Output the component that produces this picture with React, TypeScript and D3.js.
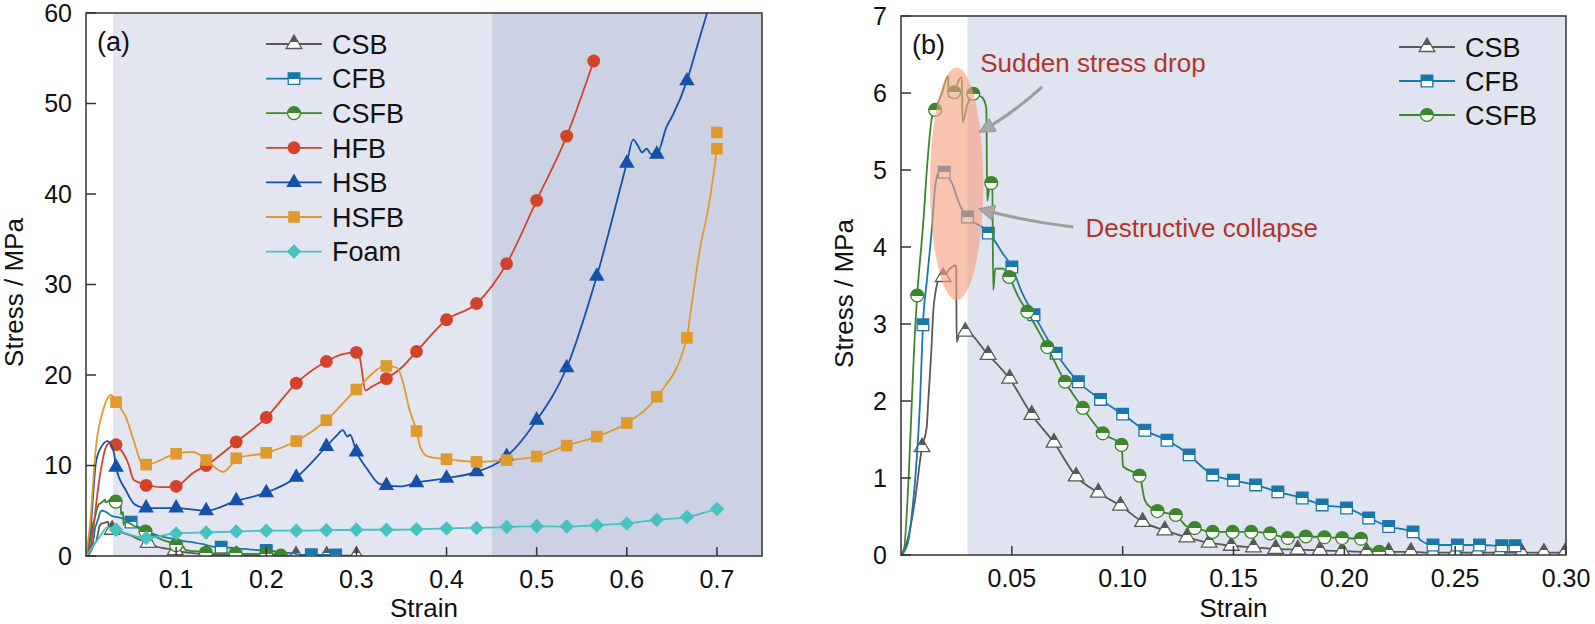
import React from 'react';
import * as d3 from 'd3';

type Pt = [number, number];
type Shape = 'triangle' | 'square' | 'circle' | 'diamond';

// ---- data: [strain, stress MPa] ----

const csbLine: Pt[] = [
  [0, 0], [0.003, 0.2], [0.0063, 0.71], [0.0095, 1.4], [0.0116, 1.66], [0.0123, 2.0], [0.0137, 2.66],
  [0.0146, 3.18], [0.0155, 3.4], [0.0176, 3.6], [0.019, 3.61], [0.0225, 3.73], [0.0245, 3.76],
  [0.0249, 3.74], [0.0251, 2.77], [0.0265, 2.88], [0.029, 2.9], [0.0393, 2.6], [0.049, 2.29],
  [0.059, 1.82], [0.069, 1.46], [0.079, 1.02], [0.089, 0.81], [0.099, 0.64], [0.109, 0.43],
  [0.119, 0.32], [0.129, 0.23], [0.139, 0.16], [0.149, 0.12], [0.159, 0.1], [0.169, 0.08],
  [0.179, 0.07], [0.189, 0.06], [0.199, 0.05], [0.21, 0.04], [0.22, 0.04], [0.23, 0.04],
  [0.24, 0.03], [0.25, 0.03], [0.26, 0.03], [0.27, 0.03], [0.28, 0.03], [0.29, 0.03], [0.3, 0.03],
];
const csbMarksB: Pt[] = [
  [0.0095, 1.4], [0.019, 3.61], [0.029, 2.9], [0.0393, 2.6], [0.049, 2.29], [0.059, 1.82], [0.069, 1.46],
  [0.079, 1.02], [0.089, 0.81], [0.099, 0.64], [0.109, 0.43], [0.119, 0.32], [0.129, 0.23], [0.139, 0.16],
  [0.149, 0.12], [0.159, 0.1], [0.169, 0.08], [0.179, 0.07], [0.189, 0.06], [0.199, 0.05], [0.21, 0.04],
  [0.22, 0.04], [0.23, 0.04], [0.24, 0.03], [0.25, 0.03], [0.26, 0.03], [0.27, 0.03], [0.28, 0.03],
  [0.29, 0.03], [0.2995, 0.03],
];
const csbMarksA: Pt[] = [
  [0.029, 2.9], [0.069, 1.46], [0.099, 0.64], [0.133, 0.2], [0.167, 0.08], [0.2, 0.05],
  [0.233, 0.04], [0.267, 0.03], [0.3, 0.03],
];

const cfbLine: Pt[] = [
  [0, 0], [0.003, 0.15], [0.005, 0.55], [0.0072, 1.3], [0.0086, 2.0], [0.0099, 2.99], [0.0118, 3.6],
  [0.014, 4.26], [0.0154, 4.78], [0.0167, 4.96], [0.0185, 5.03], [0.0195, 4.97], [0.023, 4.83],
  [0.0258, 4.6], [0.028, 4.46], [0.03, 4.39], [0.0335, 4.31], [0.037, 4.25], [0.0394, 4.18],
  [0.0425, 4.07], [0.0456, 3.93], [0.05, 3.74], [0.0547, 3.4], [0.06, 3.12], [0.07, 2.62], [0.08, 2.25],
  [0.09, 2.02], [0.1, 1.83], [0.11, 1.62], [0.12, 1.49], [0.13, 1.3], [0.136, 1.14], [0.1406, 1.04],
  [0.15, 0.97], [0.16, 0.91], [0.17, 0.82], [0.181, 0.74], [0.19, 0.65], [0.201, 0.61], [0.211, 0.48],
  [0.22, 0.37], [0.231, 0.3], [0.2345, 0.19], [0.24, 0.13], [0.251, 0.13], [0.261, 0.13], [0.271, 0.12],
  [0.278, 0.12],
];
const cfbMarksB: Pt[] = [
  [0.0099, 2.99], [0.0195, 4.97], [0.03, 4.39], [0.0394, 4.18], [0.05, 3.74], [0.06, 3.12], [0.07, 2.62],
  [0.08, 2.25], [0.09, 2.02], [0.1, 1.83], [0.11, 1.62], [0.12, 1.49], [0.13, 1.3], [0.1406, 1.04],
  [0.15, 0.97], [0.16, 0.91], [0.17, 0.82], [0.181, 0.74], [0.19, 0.65], [0.201, 0.61], [0.211, 0.48],
  [0.22, 0.37], [0.231, 0.3], [0.24, 0.13], [0.251, 0.13], [0.261, 0.13], [0.271, 0.12], [0.277, 0.12],
];
const cfbMarksA: Pt[] = [
  [0.05, 3.74], [0.15, 0.97], [0.2, 0.61], [0.25, 0.13], [0.277, 0.12],
];

const csfbLine: Pt[] = [
  [0, 0], [0.001, 0.02], [0.0067, 3.1], [0.0073, 3.37], [0.01, 4.3], [0.012, 5.13], [0.014, 5.69],
  [0.0154, 5.78], [0.0185, 6.0], [0.0212, 6.22], [0.0216, 5.95], [0.024, 6.01], [0.027, 6.2],
  [0.0274, 6.2], [0.0278, 5.62], [0.03, 5.85], [0.0326, 5.99], [0.035, 5.97], [0.037, 5.93],
  [0.0385, 5.8], [0.0389, 4.6], [0.0402, 4.83], [0.0412, 4.82], [0.0416, 3.44], [0.0425, 3.72],
  [0.046, 3.72], [0.0488, 3.61], [0.053, 3.35], [0.057, 3.16], [0.066, 2.7], [0.074, 2.25],
  [0.082, 1.91], [0.091, 1.58], [0.0995, 1.43], [0.1002, 1.15], [0.1076, 1.03], [0.11, 0.71],
  [0.1126, 0.62], [0.1157, 0.57], [0.124, 0.52], [0.129, 0.37], [0.1325, 0.35], [0.1406, 0.3],
  [0.1496, 0.3], [0.158, 0.3], [0.1665, 0.28], [0.1745, 0.22], [0.1826, 0.24], [0.191, 0.23],
  [0.199, 0.22], [0.2075, 0.21], [0.21, 0.12], [0.2157, 0.04], [0.22, 0.0],
];
const csfbMarksB: Pt[] = [
  [0.0073, 3.37], [0.0154, 5.78], [0.024, 6.01], [0.0326, 5.99], [0.0407, 4.83], [0.0488, 3.61],
  [0.057, 3.16], [0.066, 2.7], [0.074, 2.25], [0.082, 1.91], [0.091, 1.58], [0.0995, 1.43],
  [0.1076, 1.03], [0.1157, 0.57], [0.124, 0.52], [0.1325, 0.35], [0.1406, 0.3], [0.1496, 0.3],
  [0.158, 0.3], [0.1665, 0.28], [0.1745, 0.22], [0.1826, 0.24], [0.191, 0.23], [0.199, 0.22],
  [0.2075, 0.21], [0.2157, 0.04],
];
const csfbMarksA: Pt[] = [
  [0.033, 6.0], [0.066, 2.7], [0.1, 1.2], [0.133, 0.35], [0.166, 0.28], [0.2, 0.22], [0.216, 0.04],
];

const hfbLine: Pt[] = [
  [0, 0], [0.005, 1], [0.0147, 8.4], [0.022, 12.0], [0.028, 12.6], [0.0333, 12.3], [0.0466, 10.3],
  [0.053, 8.4], [0.0667, 7.9], [0.083, 7.6], [0.1, 7.7], [0.119, 9.2], [0.1333, 10.0], [0.1667, 12.6],
  [0.2, 15.3], [0.2333, 19.1], [0.2667, 21.5], [0.285, 22.3], [0.3, 22.5], [0.304, 21.8], [0.31, 18.3],
  [0.317, 18.7], [0.3333, 19.6], [0.35, 20.8], [0.3667, 22.6], [0.4, 26.1], [0.4333, 27.9],
  [0.4667, 32.3], [0.5, 39.3], [0.5333, 46.4], [0.5633, 54.7],
];
const hfbMarks: Pt[] = [
  [0.0333, 12.3], [0.0667, 7.8], [0.1, 7.7], [0.1333, 10.0], [0.1667, 12.6], [0.2, 15.3], [0.2333, 19.1],
  [0.2667, 21.5], [0.3, 22.5], [0.3333, 19.6], [0.3667, 22.6], [0.4, 26.1], [0.4333, 27.9], [0.4667, 32.3],
  [0.5, 39.3], [0.5333, 46.4], [0.5633, 54.7],
];

const hsbLine: Pt[] = [
  [0, 0], [0.005, 3], [0.011, 10.3], [0.0166, 12.0], [0.024, 12.7], [0.031, 11.4], [0.0333, 9.8],
  [0.044, 7.3], [0.052, 5.9], [0.058, 5.5], [0.0667, 5.3], [0.1, 5.3], [0.1333, 5.0], [0.1667, 6.1],
  [0.2, 7.0], [0.2333, 8.7], [0.2667, 12.1], [0.278, 13.3], [0.285, 13.9], [0.29, 13.2], [0.293, 13.4],
  [0.3, 11.5], [0.312, 9.6], [0.325, 8.0], [0.3333, 7.8], [0.349, 7.7], [0.3667, 8.1], [0.4, 8.6],
  [0.4333, 9.3], [0.4667, 11.0], [0.5, 15.0], [0.5333, 20.8], [0.5667, 30.9], [0.6, 43.4],
  [0.607, 46.0], [0.612, 45.4], [0.617, 44.6], [0.622, 45.0], [0.627, 44.4], [0.6333, 44.4],
  [0.644, 47.4], [0.651, 48.7], [0.6667, 52.5], [0.678, 56.3], [0.689, 60], [0.695, 62],
];
const hsbMarks: Pt[] = [
  [0.0333, 9.8], [0.0667, 5.3], [0.1, 5.3], [0.1333, 5.0], [0.1667, 6.1], [0.2, 7.0], [0.2333, 8.7],
  [0.2667, 12.1], [0.3, 11.5], [0.3333, 7.8], [0.3667, 8.1], [0.4, 8.6], [0.4333, 9.3], [0.4667, 11.0],
  [0.5, 15.0], [0.5333, 20.8], [0.5667, 30.9], [0.6, 43.4], [0.6333, 44.4], [0.6667, 52.5],
];

const hsfbLine: Pt[] = [
  [0, 0], [0.004, 3], [0.011, 12.0], [0.019, 16.1], [0.028, 17.8], [0.0333, 17.0], [0.044, 15.4],
  [0.055, 12.1], [0.061, 10.4], [0.0667, 10.1], [0.1, 11.3], [0.118, 11.5], [0.1333, 10.7],
  [0.144, 9.7], [0.152, 9.3], [0.163, 10.3], [0.1667, 10.8], [0.2, 11.4], [0.2333, 12.7],
  [0.2667, 15.0], [0.3, 18.4], [0.3333, 21.0], [0.345, 20.8], [0.352, 19.1], [0.358, 16.5],
  [0.3667, 13.8], [0.371, 12.0], [0.379, 11.0], [0.4, 10.7], [0.4333, 10.4], [0.4667, 10.6],
  [0.5, 11.0], [0.5333, 12.2], [0.5667, 13.2], [0.6, 14.7], [0.6333, 17.6], [0.6667, 24.1],
  [0.67, 26.4], [0.681, 33.8], [0.692, 39.3], [0.7, 45.0],
];
const hsfbMarks: Pt[] = [
  [0.0333, 17.0], [0.0667, 10.1], [0.1, 11.3], [0.1333, 10.6], [0.1667, 10.8], [0.2, 11.4],
  [0.2333, 12.7], [0.2667, 15.0], [0.3, 18.4], [0.3333, 21.0], [0.3667, 13.8], [0.4, 10.7],
  [0.4333, 10.4], [0.4667, 10.6], [0.5, 11.0], [0.5333, 12.2], [0.5667, 13.2], [0.6, 14.7],
  [0.6333, 17.6], [0.6667, 24.1], [0.7, 45.0], [0.7, 46.8],
];

const foamRise: Pt[] = [[0, 0], [0.006, 0.8], [0.015, 2.1], [0.024, 3.2]];
const foamMarks: Pt[] = [
  [0.0333, 2.9], [0.0667, 2.0], [0.1, 2.5], [0.1333, 2.6], [0.1667, 2.7], [0.2, 2.8], [0.2333, 2.8],
  [0.2667, 2.85], [0.3, 2.9], [0.3333, 2.9], [0.3667, 2.95], [0.4, 3.05], [0.4333, 3.1], [0.4667, 3.2],
  [0.5, 3.3], [0.5333, 3.25], [0.5667, 3.4], [0.6, 3.6], [0.6333, 4.0], [0.6667, 4.3], [0.7, 5.2],
];

const xTicksA = [0.1, 0.2, 0.3, 0.4, 0.5, 0.6, 0.7];
const yTicksA = [0, 10, 20, 30, 40, 50, 60];
const xTicksB = [0.05, 0.1, 0.15, 0.2, 0.25, 0.3];
const yTicksB = [0, 1, 2, 3, 4, 5, 6, 7];

const COLORS = {
  csb: '#595959',
  cfb: '#1a77a9',
  csfb: '#3c872c',
  hfb: '#d3432a',
  hsb: '#1551a8',
  hsfb: '#e09a2c',
  foam: '#46c3bd',
};

const FONT = '"Liberation Sans", Arial, Helvetica, sans-serif';

const SYMBOLS: Record<Shape, string> = {
  triangle: d3.symbol(d3.symbolTriangle, 105)() || '',
  square: d3.symbol(d3.symbolSquare, 135)() || '',
  circle: d3.symbol(d3.symbolCircle, 130)() || '',
  diamond: d3.symbol(d3.symbolSquare, 105)() || '',
};

interface Series {
  key: string;
  name: string;
  color: string;
  shape: Shape;
  half: boolean;
  line: Pt[];
  marks: Pt[];
}

const seriesA: Series[] = [
  { key: 'csb', name: 'CSB', color: COLORS.csb, shape: 'triangle', half: true, line: csbLine, marks: csbMarksA },
  { key: 'cfb', name: 'CFB', color: COLORS.cfb, shape: 'square', half: true, line: cfbLine, marks: cfbMarksA },
  { key: 'csfb', name: 'CSFB', color: COLORS.csfb, shape: 'circle', half: true, line: csfbLine, marks: csfbMarksA },
  { key: 'hfb', name: 'HFB', color: COLORS.hfb, shape: 'circle', half: false, line: hfbLine, marks: hfbMarks },
  { key: 'hsb', name: 'HSB', color: COLORS.hsb, shape: 'triangle', half: false, line: hsbLine, marks: hsbMarks },
  { key: 'hsfb', name: 'HSFB', color: COLORS.hsfb, shape: 'square', half: false, line: hsfbLine, marks: hsfbMarks },
  { key: 'foam', name: 'Foam', color: COLORS.foam, shape: 'diamond', half: false, line: [...foamRise, ...foamMarks], marks: foamMarks },
];

const seriesB: Series[] = [
  { key: 'csb', name: 'CSB', color: COLORS.csb, shape: 'triangle', half: true, line: csbLine, marks: csbMarksB },
  { key: 'cfb', name: 'CFB', color: COLORS.cfb, shape: 'square', half: true, line: cfbLine, marks: cfbMarksB },
  { key: 'csfb', name: 'CSFB', color: COLORS.csfb, shape: 'circle', half: true, line: csfbLine, marks: csfbMarksB },
];

const Marker: React.FC<{ s: Series; x: number; y: number }> = ({ s, x, y }) => (
  <path
    d={SYMBOLS[s.shape]}
    transform={`translate(${x},${y})${s.shape === 'diamond' ? ' rotate(45)' : ''}`}
    fill={s.half ? `url(#half-${s.key})` : s.color}
    stroke={s.half ? s.color : 'none'}
    strokeWidth={1.3}
  />
);

interface PanelProps {
  id: string;
  label: string;
  series: Series[];
  x: d3.ScaleLinear<number, number>;
  y: d3.ScaleLinear<number, number>;
  xTicks: number[];
  yTicks: number[];
  xFormat: (n: number) => string;
  shades: { from: number; to: number; fill: string }[];
  legend: { x: number; y: number; step: number };
  titleX: number;
  children?: React.ReactNode;
}

const Panel: React.FC<PanelProps> = ({ id, label, series, x, y, xTicks, yTicks, xFormat, shades, legend, titleX, children }) => {
  const [x0, x1] = x.range();
  const [y0, y1] = y.range();
  const line = d3.line<Pt>().x(d => x(d[0])).y(d => y(d[1])).curve(d3.curveMonotoneX);
  const midX = (x0 + x1) / 2;
  const midY = (y0 + y1) / 2 + 8;

  return (
    <g fontFamily={FONT}>
      <defs>
        <clipPath id={`clip-${id}`}>
          <rect x={x0} y={y1} width={x1 - x0} height={y0 - y1} />
        </clipPath>
      </defs>
      {shades.map((sh, i) => (
        <rect key={i} x={x(sh.from)} y={y1} width={x(sh.to) - x(sh.from)} height={y0 - y1} fill={sh.fill} />
      ))}

      <g clipPath={`url(#clip-${id})`}>
        {series.map(s => (
          <g key={s.key}>
            <path d={line(s.line) || ''} fill="none" stroke={s.color} strokeWidth={1.8} />
            {s.marks.map((m, i) => (
              <Marker key={i} s={s} x={x(m[0])} y={y(m[1])} />
            ))}
          </g>
        ))}
        {children}
      </g>

      <rect x={x0} y={y1} width={x1 - x0} height={y0 - y1} fill="none" stroke="#333" strokeWidth={1.5} />

      {yTicks.map(t => (
        <g key={`y${t}`}>
          <line x1={x0} x2={x0 + 10} y1={y(t)} y2={y(t)} stroke="#333" strokeWidth={1.5} />
          <text x={x0 - 14} y={y(t)} dy="0.35em" textAnchor="end" fontSize={25} fill="#111">{t}</text>
        </g>
      ))}
      {xTicks.map(t => (
        <g key={`x${t}`}>
          <line x1={x(t)} x2={x(t)} y1={y0} y2={y0 - 9} stroke="#333" strokeWidth={1.5} />
          <text x={x(t)} y={y0 + 32} textAnchor="middle" fontSize={25} fill="#111">{xFormat(t)}</text>
        </g>
      ))}

      <text x={midX} y={617} textAnchor="middle" fontSize={26} fill="#111">Strain</text>
      <text transform={`translate(${titleX},${midY}) rotate(-90)`} textAnchor="middle" fontSize={26} fill="#111">
        Stress / MPa
      </text>
      <text x={x0 + 11} y={y1 + 38} fontSize={27} fill="#111">{label}</text>

      {series.map((s, i) => {
        const ly = legend.y + i * legend.step;
        return (
          <g key={`leg-${s.key}`}>
            <line x1={legend.x} x2={legend.x + 56} y1={ly} y2={ly} stroke={s.color} strokeWidth={1.8} />
            <Marker s={s} x={legend.x + 28} y={ly} />
            <text x={legend.x + 66} y={ly} dy="0.36em" fontSize={27} fill="#111">{s.name}</text>
          </g>
        );
      })}
    </g>
  );
};

const App: React.FC = () => {
  const xA = d3.scaleLinear().domain([0, 0.75]).range([86, 762]);
  const yA = d3.scaleLinear().domain([0, 60]).range([556, 13]);
  const xB = d3.scaleLinear().domain([0, 0.3]).range([901, 1566]);
  const yB = d3.scaleLinear().domain([0, 7]).range([555, 16]);

  const arrow1 = `M${xB(0.0637)},${yB(6.08)} Q${xB(0.0502)},${yB(5.73)} ${xB(0.0372)},${yB(5.52)}`;
  const arrow2 = `M${xB(0.0778)},${yB(4.26)} Q${xB(0.057)},${yB(4.33)} ${xB(0.0372)},${yB(4.48)}`;

  return (
    <div style={{ position: 'absolute', left: 0, top: 0 }}>
      <svg width={1595} height={624} viewBox="0 0 1595 624" style={{ display: 'block', background: '#fff' }}>
        <defs>
          {seriesA.filter(s => s.half).map(s => (
            <linearGradient key={s.key} id={`half-${s.key}`} x1="0" y1="0" x2="0" y2="1">
              <stop offset="0" stopColor={s.color} />
              <stop offset="0.5" stopColor={s.color} />
              <stop offset="0.5" stopColor="#fff" />
              <stop offset="1" stopColor="#fff" />
            </linearGradient>
          ))}
          <marker id="arrowhead" viewBox="0 0 10 10" refX="7" refY="5" markerWidth="5.5" markerHeight="5" orient="auto">
            <path d="M0,0 L10,5 L0,10 z" fill="#a8a8a8" stroke="#999" strokeWidth={0.8} />
          </marker>
        </defs>

        <Panel
          id="a"
          label="(a)"
          series={seriesA}
          x={xA}
          y={yA}
          xTicks={xTicksA}
          yTicks={yTicksA}
          xFormat={d3.format('.1f')}
          shades={[
            { from: 0.03, to: 0.45, fill: '#e3e5f1' },
            { from: 0.45, to: 0.75, fill: '#cdd1e4' },
          ]}
          legend={{ x: 266, y: 44, step: 34.6 }}
          titleX={23}
        />

        <Panel
          id="b"
          label="(b)"
          series={seriesB}
          x={xB}
          y={yB}
          xTicks={xTicksB}
          yTicks={yTicksB}
          xFormat={d3.format('.2f')}
          shades={[{ from: 0.03, to: 0.3, fill: '#e0e3f0' }]}
          legend={{ x: 1399, y: 47, step: 34 }}
          titleX={853}
        >
          <ellipse
            cx={xB(0.0251)}
            cy={yB(4.82)}
            rx={xB(0.0371) - xB(0.0251)}
            ry={yB(3.31) - yB(4.82)}
            fill="#f49f80"
            opacity={0.62}
          />
        </Panel>

        <g fontFamily={FONT}>
          <path d={arrow1} fill="none" stroke="#9d9d9d" strokeWidth={3} markerEnd="url(#arrowhead)" />
          <path d={arrow2} fill="none" stroke="#9d9d9d" strokeWidth={3} markerEnd="url(#arrowhead)" />
          <text x={xB(0.0357)} y={yB(6.27)} fontSize={26} fill="#b3342f">Sudden stress drop</text>
          <text x={xB(0.0832)} y={yB(4.13)} fontSize={26} fill="#b3342f">Destructive collapse</text>
        </g>
      </svg>
    </div>
  );
};

export default App;
